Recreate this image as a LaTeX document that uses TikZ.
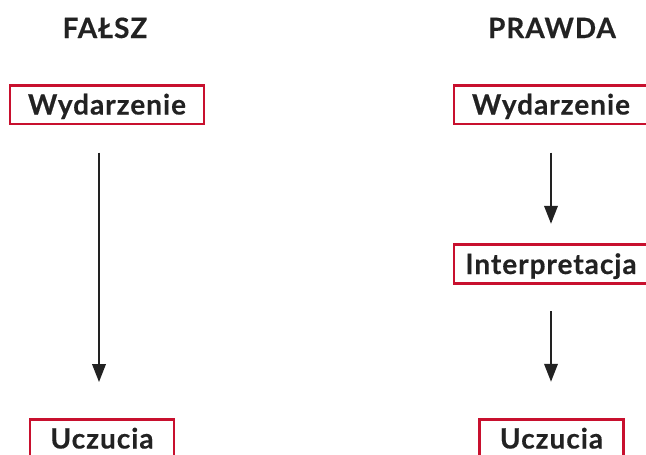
\documentclass[tikz,border=0pt]{standalone}
\usepackage{fontspec}
\setmainfont{Lato}[BoldFeatures={LetterSpace=3.5,FakeBold=0.4}]
\usetikzlibrary{arrows.meta}
\definecolor{boxred}{HTML}{C8102E}
\definecolor{ink}{HTML}{222222}
\begin{document}
\begin{tikzpicture}[x=0.75pt,y=-0.75pt,
    every node/.style={font=\bfseries\fontsize{21}{25}\selectfont,text=ink},
    box/.style={draw=boxred,line width=2pt,inner sep=0pt,
      minimum height=29pt,text height=15pt,text depth=0pt},
    wide/.style={box,minimum width=145.5pt},
    narrow/.style={box,minimum width=108pt},
    arr/.style={-{Triangle[length=13.5pt,width=10pt]},line width=1.8pt,draw=ink}]
  \useasboundingbox (0,0) rectangle (646,454);
  % headings
  \node[text height=15pt,text depth=0pt] (falsz) at (105,28) {FAŁSZ};
  \node[text height=15pt,text depth=0pt] (prawda) at (552,28) {PRAWDA};
  % left column
  \node[wide] (wyd1) at (107,104.5) {Wydarzenie};
  \node[narrow] (ucz1) at (102,438.5) {Uczucia};
  % right column
  \node[wide] (wyd2) at (551,104.5) {Wydarzenie};
  \node[wide] (interp) at (551,264) {Interpretacja};
  \node[narrow] (ucz2) at (551.5,438.5) {Uczucia};
  \begin{scope}[arr]
    \draw[shorten <=20.6pt,shorten >=26.8pt]
      ([xshift=-6pt]wyd1.south) -- ([xshift=-2.25pt]ucz1.north);
    \draw[shorten <=20.6pt,shorten >=14.6pt] (wyd2.south) -- (interp.north);
    \draw[shorten <=20pt,shorten >=27pt] (interp.south) -- (ucz2.north -| interp.south);
  \end{scope}
\end{tikzpicture}
\end{document}
